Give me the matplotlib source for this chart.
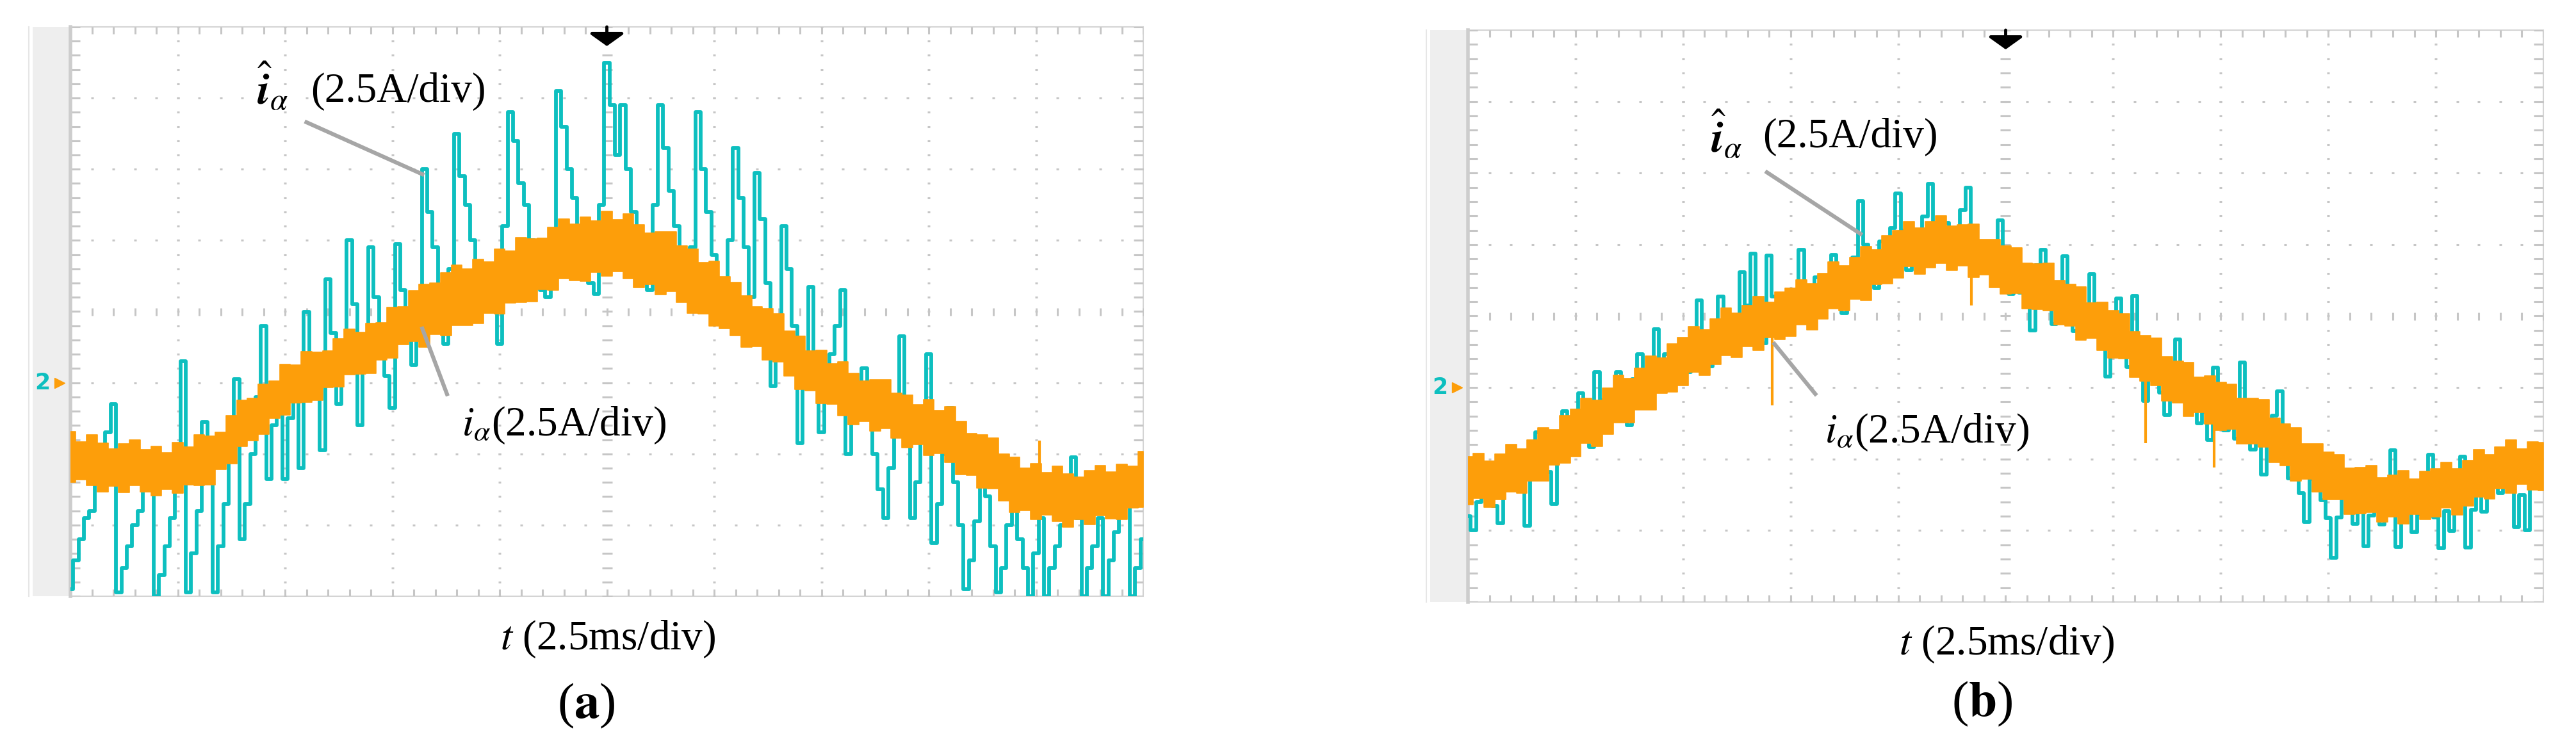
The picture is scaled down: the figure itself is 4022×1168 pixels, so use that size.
import numpy as np
import matplotlib.pyplot as plt
from matplotlib.patches import Rectangle

plt.rcParams['font.family'] = ['Liberation Serif', 'DejaVu Serif']
plt.rcParams['mathtext.fontset'] = 'stix'

# scope screen: 10 x 8 divisions, 2.5 ms/div, 2.5 A/div; all values below are in divisions
# (a) estimated current i_alpha_hat, sampled every 0.05 div
ia_hat_a = [-3.9, -3.5, -3.2, -2.9, -2.8, -2.4, -2.1, -1.7, -1.3, -3.95,
            -3.6, -3.3, -3.0, -2.8, -2.5, -2.1, -4.0, -3.7, -3.3, -2.9,
            -2.3, -0.7, -3.95, -3.4, -2.8, -1.55, -2.3, -3.95, -3.3, -2.7,
            -1.6, -0.95, -3.2, -2.7, -2.0, -1.2, -0.2, -2.35, -1.6, -1.0,
            -2.35, -1.5, -0.8, -2.2, 0.0, -0.6, -1.0, -1.95, 0.45, -0.3,
            -1.3, -0.5, 1.0, 0.1, -1.6, -0.6, 0.9, 0.2, -0.5, -0.9,
            -1.35, 0.95, 0.3, -0.3, -0.75, -0.1, 2.0, 1.4, 0.9, 0.3,
            -0.45, 0.6, 2.5, 1.9, 1.5, 1.0, 0.6, 0.3, 0.2, 0.5,
            -0.45, 1.2, 2.8, 2.4, 1.8, 1.5, 1.0, 0.7, 0.3, 0.2,
            1.0, 3.1, 2.6, 2.0, 1.6, 1.2, 0.8, 0.4, 0.25, 1.5,
            3.5, 2.9, 2.2, 2.9, 2.0, 1.4, 0.9, 0.5, 0.3, 1.5,
            2.9, 2.3, 1.7, 1.2, 0.7, 0.2, 0.9, 2.8, 2.0, 1.4,
            0.8, 0.3, -0.2, 1.0, 2.3, 1.6, 0.9, 0.2, 1.95, 1.3,
            0.4, -1.05, -0.3, 1.2, 0.6, -0.2, -1.85, -0.8, 0.35, -0.6,
            -1.7, -1.1, -0.6, -0.2, 0.3, -2.0, -1.5, -1.1, -0.8, -1.4,
            -2.0, -2.5, -2.9, -2.2, -1.2, -0.35, -1.5, -2.9, -2.4, -1.5,
            -0.6, -3.25, -2.7, -2.0, -1.35, -2.4, -3.0, -3.9, -3.5, -2.95,
            -1.8, -2.6, -3.3, -3.95, -3.6, -3.0, -2.7, -3.2, -3.6, -4.0,
            -3.4, -2.9, -4.0, -3.6, -3.3, -3.0, -2.8, -2.05, -2.9, -4.0,
            -3.6, -3.3, -2.9, -4.0, -3.5, -3.1, -2.7, -2.4, -4.0, -3.6,
            -3.2]
# (a) measured current i_alpha, band edges every 0.1 div
ia_hi_a = [-1.69, -1.83, -1.73, -1.85, -1.93, -1.86, -1.80, -1.94, -1.89, -1.98,
           -1.84, -1.90, -1.73, -1.75, -1.70, -1.46, -1.25, -1.22, -1.02, -0.98,
           -0.74, -0.75, -0.56, -0.57, -0.55, -0.38, -0.25, -0.29, -0.17, -0.16,
           0.06, 0.07, 0.29, 0.38, 0.40, 0.54, 0.65, 0.60, 0.73, 0.70,
           0.88, 0.85, 1.04, 1.02, 1.03, 1.18, 1.30, 1.23, 1.33, 1.27,
           1.41, 1.29, 1.37, 1.22, 1.10, 1.12, 1.12, 0.92, 0.88, 0.69,
           0.71, 0.49, 0.41, 0.22, 0.07, 0.04, -0.03, -0.27, -0.35, -0.55,
           -0.54, -0.73, -0.71, -0.87, -0.98, -0.96, -0.96, -1.15, -1.17, -1.31,
           -1.24, -1.39, -1.34, -1.54, -1.71, -1.73, -1.78, -2.00, -2.05, -2.20,
           -2.14, -2.26, -2.17, -2.28, -2.33, -2.24, -2.16, -2.25, -2.15, -2.17,
           -1.97]
ia_lo_a = [-2.40, -2.36, -2.44, -2.53, -2.45, -2.54, -2.44, -2.53, -2.59, -2.50,
           -2.55, -2.43, -2.44, -2.43, -2.22, -2.14, -1.89, -1.81, -1.72, -1.50,
           -1.45, -1.28, -1.27, -1.25, -1.07, -1.06, -0.89, -0.88, -0.87, -0.68,
           -0.65, -0.46, -0.42, -0.50, -0.32, -0.34, -0.19, -0.19, -0.17, -0.02,
           -0.03, 0.12, 0.13, 0.14, 0.31, 0.30, 0.46, 0.44, 0.43, 0.55,
           0.50, 0.56, 0.46, 0.34, 0.38, 0.24, 0.28, 0.13, -0.02, -0.03,
           -0.20, -0.24, -0.34, -0.50, -0.49, -0.68, -0.71, -0.90, -1.09, -1.11,
           -1.29, -1.30, -1.46, -1.59, -1.54, -1.68, -1.64, -1.78, -1.91, -1.87,
           -2.02, -1.99, -2.12, -2.29, -2.30, -2.48, -2.49, -2.66, -2.82, -2.79,
           -2.92, -2.86, -2.95, -3.03, -2.92, -2.99, -2.87, -2.91, -2.92, -2.76,
           -2.75]
spike_t_a = [9.03]
spike_lo_a = [-2.3]
spike_hi_a = [-1.81]

# (b) estimated current i_alpha_hat, sampled every 0.05 div
ia_hat_b = [-2.8, -3.0, -2.6, -2.09, -2.38, -2.66, -2.9, -2.32, -1.9, -2.16,
            -2.42, -2.93, -2.23, -1.63, -1.83, -2.18, -2.63, -1.98, -1.33, -1.58,
            -1.93, -1.08, -1.43, -1.83, -0.78, -1.18, -1.63, -1.18, -0.78, -1.38,
            -1.53, -0.88, -0.53, -0.98, -1.28, -0.18, -0.63, -0.53, -1.03, -0.58,
            -0.33, -0.78, -0.33, 0.22, -0.24, -0.7, -0.26, 0.27, -0.09, -0.51,
            -0.07, 0.61, 0.15, 0.87, 0.1, -0.38, 0.85, 0.27, -0.2, 0.23,
            -0.24, 0.35, 0.93, 0.37, -0.05, 0.54, 0.18, 0.52, 0.86, 0.4,
            0.04, 0.68, 0.82, 1.61, 1.0, 0.75, 0.39, 1.04, 0.78, 1.23,
            1.72, 1.2, 0.64, 1.16, 0.83, 1.39, 1.85, 1.3, 0.8, 1.3,
            0.7, 1.19, 1.48, 1.8, 1.12, 0.63, 1.03, 0.68, 1.03, 1.34,
            0.85, 0.31, 0.67, 0.33, 0.59, -0.2, 0.71, 0.93, 0.14, -0.11,
            0.34, 0.84, 0.14, -0.21, 0.24, -0.21, 0.59, 0.0, -0.45, -0.85,
            -0.25, 0.25, -0.25, -0.71, 0.28, -0.43, -1.19, -0.85, -0.51, -1.07,
            -1.38, -0.88, -0.33, -0.88, -1.37, -1.16, -1.5, -1.34, -1.73, -0.72,
            -1.26, -1.6, -1.23, -1.72, -0.65, -1.44, -1.87, -1.72, -2.22, -1.73,
            -1.39, -1.05, -1.91, -2.27, -2.03, -2.48, -2.88, -2.28, -1.93, -2.58,
            -2.83, -3.38, -2.82, -2.25, -2.68, -2.91, -2.44, -3.22, -2.79, -2.51,
            -2.92, -2.68, -1.88, -3.23, -2.88, -2.62, -3.02, -2.77, -2.31, -1.94,
            -2.82, -3.25, -2.73, -3.01, -2.54, -1.97, -3.24, -2.71, -2.37, -2.74,
            -2.4, -2.07, -2.48, -2.12, -1.9, -2.95, -2.5, -3.0, -2.3, -2.0,
            -2.2]
ia_hi_b = [-1.97, -1.92, -2.03, -1.93, -1.80, -1.86, -1.73, -1.56, -1.59, -1.39,
           -1.30, -1.15, -1.18, -1.01, -0.83, -0.87, -0.73, -0.56, -0.59, -0.39,
           -0.30, -0.15, -0.19, -0.04, 0.11, 0.04, 0.15, 0.27, 0.19, 0.34,
           0.39, 0.51, 0.45, 0.60, 0.76, 0.70, 0.82, 0.97, 0.93, 1.12,
           1.20, 1.32, 1.23, 1.32, 1.40, 1.26, 1.28, 1.29, 1.07, 1.07,
           0.98, 0.95, 0.74, 0.73, 0.74, 0.50, 0.44, 0.41, 0.18, 0.19,
           0.08, 0.03, -0.22, -0.27, -0.31, -0.57, -0.63, -0.65, -0.86, -0.84,
           -0.93, -0.95, -1.15, -1.15, -1.17, -1.43, -1.51, -1.56, -1.79, -1.79,
           -1.90, -1.94, -2.13, -2.12, -2.09, -2.26, -2.23, -2.16, -2.28, -2.17,
           -2.14, -2.05, -2.14, -2.02, -1.87, -1.94, -1.83, -1.73, -1.86, -1.76,
           -1.77]
ia_lo_b = [-2.64, -2.55, -2.67, -2.57, -2.46, -2.48, -2.31, -2.31, -2.08, -2.06,
           -1.97, -1.78, -1.82, -1.65, -1.49, -1.49, -1.31, -1.31, -1.08, -1.06,
           -0.97, -0.78, -0.83, -0.68, -0.55, -0.58, -0.43, -0.48, -0.30, -0.33,
           -0.28, -0.12, -0.19, -0.04, 0.10, 0.08, 0.24, 0.22, 0.44, 0.45,
           0.53, 0.69, 0.59, 0.68, 0.74, 0.64, 0.70, 0.54, 0.58, 0.40,
           0.31, 0.32, 0.10, 0.09, 0.08, -0.12, -0.14, -0.34, -0.31, -0.48,
           -0.59, -0.60, -0.86, -0.91, -0.97, -1.19, -1.21, -1.40, -1.35, -1.51,
           -1.60, -1.58, -1.79, -1.79, -1.83, -2.05, -2.09, -2.31, -2.28, -2.46,
           -2.57, -2.57, -2.77, -2.76, -2.75, -2.88, -2.81, -2.91, -2.77, -2.84,
           -2.81, -2.68, -2.78, -2.66, -2.53, -2.56, -2.41, -2.48, -2.35, -2.43,
           -2.44]
spike_t_b = [2.83, 4.68, 6.3, 6.94]
spike_lo_b = [-1.25, 0.15, -1.78, -2.12]
spike_hi_b = [0.0, 0.8, -0.7, -1.1]

CYAN = '#0dbfbf'
ORANGE = '#fd9e0a'
GRID = '#c6c6c6'
LEAD = '#a6a6a6'


def scope_screen(ax):
    ax.set_xlim(0, 10)
    ax.set_ylim(-4, 4)
    ax.axis('off')
    # grey strip on the left of the screen
    ax.add_patch(Rectangle((-0.35, -4), 0.35, 8, fc='#eeeeee', ec='none',
                           clip_on=False, zorder=0))
    ax.plot([-0.39, -0.39], [-4, 4], color='#e6e6e6', lw=1.5, clip_on=False)
    xm = np.arange(0, 10.01, 0.2)
    ym = np.arange(-4, 4.01, 0.2)
    for g in [1, 2, 3, 4, 6, 7, 8, 9]:
        ax.plot(np.full_like(ym, g), ym, ls='none', marker='_', ms=3.5, mew=2.2, color=GRID)
    for g in [-3, -2, -1, 1, 2, 3]:
        ax.plot(xm, np.full_like(xm, g), ls='none', marker='_', ms=3.5, mew=2.2, color=GRID)
    # centre axes with minor ticks
    ax.plot(np.full_like(ym, 5), ym, ls='none', marker='_', ms=11, mew=2.2, color=GRID)
    ax.plot(xm, np.zeros_like(xm), ls='none', marker='|', ms=8, mew=2.2, color=GRID)
    # ticks along the frame
    ax.vlines(xm, 3.9, 4, color=GRID, lw=2.2)
    ax.vlines(xm, -4, -3.9, color=GRID, lw=2.2)
    ax.hlines(ym, 0, 0.09, color=GRID, lw=2.2)
    ax.hlines(ym, 9.91, 10, color=GRID, lw=2.2)
    ax.add_patch(Rectangle((0, -4), 10, 8, fill=False, ec='#d4d4d4', lw=1.5, clip_on=False))
    ax.plot([0, 0], [-4, 4], color='#cdcdcd', lw=4, clip_on=False)
    # channel 2 ground marker
    ax.text(-0.26, -1, '2', color=CYAN, fontsize=25, fontweight='bold',
            family='DejaVu Sans', ha='center', va='center')
    ax.plot([-0.1], [-1], marker='>', ms=12, color=ORANGE, ls='none', clip_on=False)
    # trigger position arrow
    ax.annotate('', xy=(5, 3.73), xytext=(5, 4.0),
                arrowprops=dict(arrowstyle='-|>,head_length=0.3,head_width=0.42',
                                color='black', lw=3.5, mutation_scale=40,
                                shrinkA=0, shrinkB=0),
                annotation_clip=False)


def traces(ax, hat, hi, lo, sx, slo, shi):
    tc = np.linspace(0, 10, len(hat))
    to = np.linspace(0, 10, len(hi))
    ax.plot(tc, hat, drawstyle='steps-mid', color=CYAN, lw=4.2, zorder=3)
    ax.fill_between(to, lo, hi, step='mid', color=ORANGE, lw=1.2, ec=ORANGE, zorder=4)
    ax.vlines(sx, slo, shi, color=ORANGE, lw=3, zorder=4)


fig = plt.figure(figsize=(40.23, 11.68), dpi=100)
ax_a = fig.add_axes([110 / 4023, 1 - 931 / 1168, 1675 / 4023, 889 / 1168])
ax_b = fig.add_axes([2292 / 4023, 1 - 940 / 1168, 1679 / 4023, 893 / 1168])

HAT_I = r'$\hat{\mathbfit{i}}_{\alpha}$'
LOW_I = r'$i_{\alpha}$(2.5A/div)'

# panel (a)
scope_screen(ax_a)
traces(ax_a, ia_hat_a, ia_hi_a, ia_lo_a, spike_t_a, spike_lo_a, spike_hi_a)
ax_a.text(1.74, 2.91, HAT_I, fontsize=50, ha='left', va='baseline')
ax_a.text(2.24, 3.09, '(2.5A/div)', fontsize=47, ha='left', va='center')
ax_a.plot([2.20, 3.28], [2.66, 1.93], color=LEAD, lw=4.5, zorder=5)
ax_a.plot([3.28, 3.51], [-0.24, -1.16], color=LEAD, lw=4.5, zorder=5)
ax_a.text(3.65, -1.6, LOW_I, fontsize=47, ha='left', va='center')
ax_a.text(5.01, -4.6, r'$t$ (2.5ms/div)', fontsize=47, ha='center', va='center')
ax_a.text(4.81, -5.54, r'($\mathbf{a}$)', fontsize=57, ha='center', va='center')

# panel (b)
scope_screen(ax_b)
traces(ax_b, ia_hat_b, ia_hi_b, ia_lo_b, spike_t_b, spike_lo_b, spike_hi_b)
ax_b.text(2.26, 2.29, HAT_I, fontsize=50, ha='left', va='baseline')
ax_b.text(2.74, 2.5, '(2.5A/div)', fontsize=47, ha='left', va='center')
ax_b.plot([2.78, 3.65], [2.01, 1.15], color=LEAD, lw=4.5, zorder=5)
ax_b.plot([2.85, 3.23], [-0.39, -1.09], color=LEAD, lw=4.5, zorder=5)
ax_b.text(3.32, -1.63, LOW_I, fontsize=47, ha='left', va='center')
ax_b.text(5.01, -4.59, r'$t$ (2.5ms/div)', fontsize=47, ha='center', va='center')
ax_b.text(4.78, -5.43, r'($\mathbf{b}$)', fontsize=57, ha='center', va='center')

fig.savefig('out.png', dpi=100, facecolor='white')
